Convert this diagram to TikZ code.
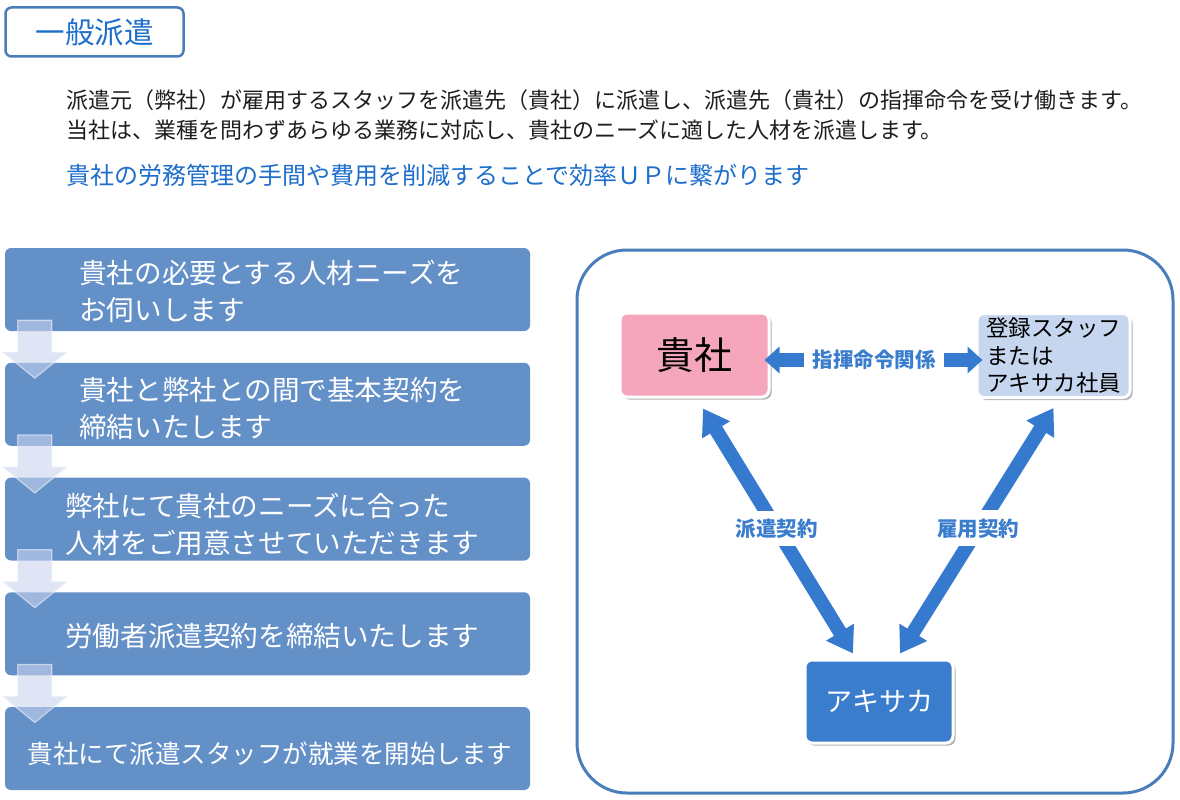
\documentclass[tikz,border=0pt]{standalone}
\usepackage{fontspec}
\setmainfont{Noto Sans CJK JP}
\usetikzlibrary{arrows.meta,shadows,calc,positioning}
\definecolor{framebl}{RGB}{74,126,187}
\definecolor{titlebl}{RGB}{30,110,204}
\definecolor{stepbl}{RGB}{100,144,200}
\definecolor{downfill}{RGB}{203,212,238}
\definecolor{kishapk}{RGB}{245,166,188}
\definecolor{staffbl}{RGB}{198,214,238}
\definecolor{akibl}{RGB}{59,125,205}
\definecolor{arrbl}{RGB}{53,122,206}
\definecolor{desctxt}{RGB}{30,30,30}
\tikzset{
	titlebox/.style={draw=framebl,line width=2.5pt,rounded corners=6pt,minimum width=178pt,minimum height=49pt,text=titlebl,font=\fontsize{29.5}{29.5}\selectfont},
	desc/.style={anchor=west,inner sep=0pt,text=desctxt,font=\fontsize{22}{22}\selectfont},
	stepbox/.style={fill=stepbl,rounded corners=6pt,minimum width=525pt,minimum height=83pt,inner sep=0pt},
	steptxt/.style={anchor=west,align=left,inner sep=0pt,text=white,font=\fontsize{27.6}{37}\selectfont},
	downarr/.style={fill=downfill,draw=white!70!downfill,line width=1.2pt,opacity=0.6},
	partybox/.style={draw=white,line width=3pt,rounded corners=7pt,minimum width=149pt,minimum height=84pt,drop shadow={shadow xshift=2.5pt,shadow yshift=-2.5pt,fill=black,opacity=0.3}},
	relarr/.style={draw=arrbl,line width=14pt,{Triangle[length=25pt,width=31pt]}-{Triangle[length=25pt,width=31pt]}},
	cmdarr/.style={draw=arrbl,line width=14pt,-{Triangle[length=15pt,width=26pt]}},
	rellbl/.style={fill=white,text=akibl,inner xsep=3pt,inner ysep=8pt,font=\fontsize{20.5}{20.5}\selectfont\bfseries}
}
\begin{document}
\begin{tikzpicture}[x=1pt,y=-1pt]
	\useasboundingbox[fill=white] (0,0) rectangle (1180,800);
	\node[titlebox] (title) at (94.5,32) {一般派遣};
	\node[desc] (desc1) at (66,100) {派遣元（弊社）が雇用するスタッフを派遣先（貴社）に派遣し、派遣先（貴社）の指揮命令を受け働きます。};
	\node[desc] (desc2) at (66,130) {当社は、業種を問わずあらゆる業務に対応し、貴社のニーズに適した人材を派遣します。};
	\node[desc,text=titlebl,font=\fontsize{24}{24}\selectfont] (desc3) at (66,175) {貴社の労務管理の手間や費用を削減することで効率ＵＰに繋がります};
	\foreach \i in {1,...,5} \node[stepbox] (step\i) at (267.5,{289.5+114.75*(\i-1)}) {};
	\foreach \i in {1,...,4} \draw[downarr] ($(step\i.south west)+(13,-11)$) -- ++(34,0) -- ++(0,32) -- ++(15,0) -- ++(-32,26) -- ++(-32,-26) -- ++(15,0) -- cycle;
	\node[steptxt] (txt1) at (79,291) {貴社の必要とする人材ニーズを\\お伺いします};
	\node[steptxt] (txt2) at (79,409) {貴社と弊社との間で基本契約を\\締結いたします};
	\node[steptxt] (txt3) at (65,524) {弊社にて貴社のニーズに合った\\人材をご用意させていただきます};
	\node[steptxt] (txt4) at (65,636) {労働者派遣契約を締結いたします};
	\node[steptxt,anchor=center,font=\fontsize{25.5}{25.5}\selectfont] (txt5) at (270,754) {貴社にて派遣スタッフが就業を開始します};
	\draw[framebl,line width=3pt,rounded corners=50pt] (577,250) rectangle (1173,793);
	\node[partybox,fill=kishapk,font=\fontsize{38}{38}\selectfont] (kisha) at (694.5,355) {貴社};
	\node[partybox,fill=staffbl,minimum width=153pt,inner xsep=9pt,text width=135pt,align=left,font=\fontsize{22.5}{27.5}\selectfont] (staff) at (1053.5,355.5) {登録スタッフ\\または\\アキサカ社員};
	\node[partybox,fill=akibl,text=white,minimum width=148pt,minimum height=83pt,font=\fontsize{27}{27}\selectfont] (aki) at (879,701.5) {アキサカ};
	\coordinate (kishaend) at ([shift={(8.5,10)}]kisha.south);
	\coordinate (staffend) at ([shift={(0,9)}]staff.south);
	\coordinate (akiendl) at ([shift={(-26,-5)}]aki.north);
	\coordinate (akiendr) at ([shift={(21,-5)}]aki.north);
	\draw[relarr] (kishaend) -- node[rellbl,pos=0.49] (hakenlbl) {派遣契約} (akiendl);
	\draw[relarr] (staffend) -- node[rellbl,pos=0.49] (koyolbl) {雇用契約} (akiendr);
	\node[rellbl,inner xsep=8pt] (cmdlbl) at (874,360) {指揮命令関係};
	\draw[cmdarr,shorten >=-6pt] (cmdlbl.west) -- (cmdlbl.west -| kisha.east);
	\draw[cmdarr,shorten >=-7pt] (cmdlbl.east) -- (cmdlbl.east -| staff.west);
\end{tikzpicture}
\end{document}
